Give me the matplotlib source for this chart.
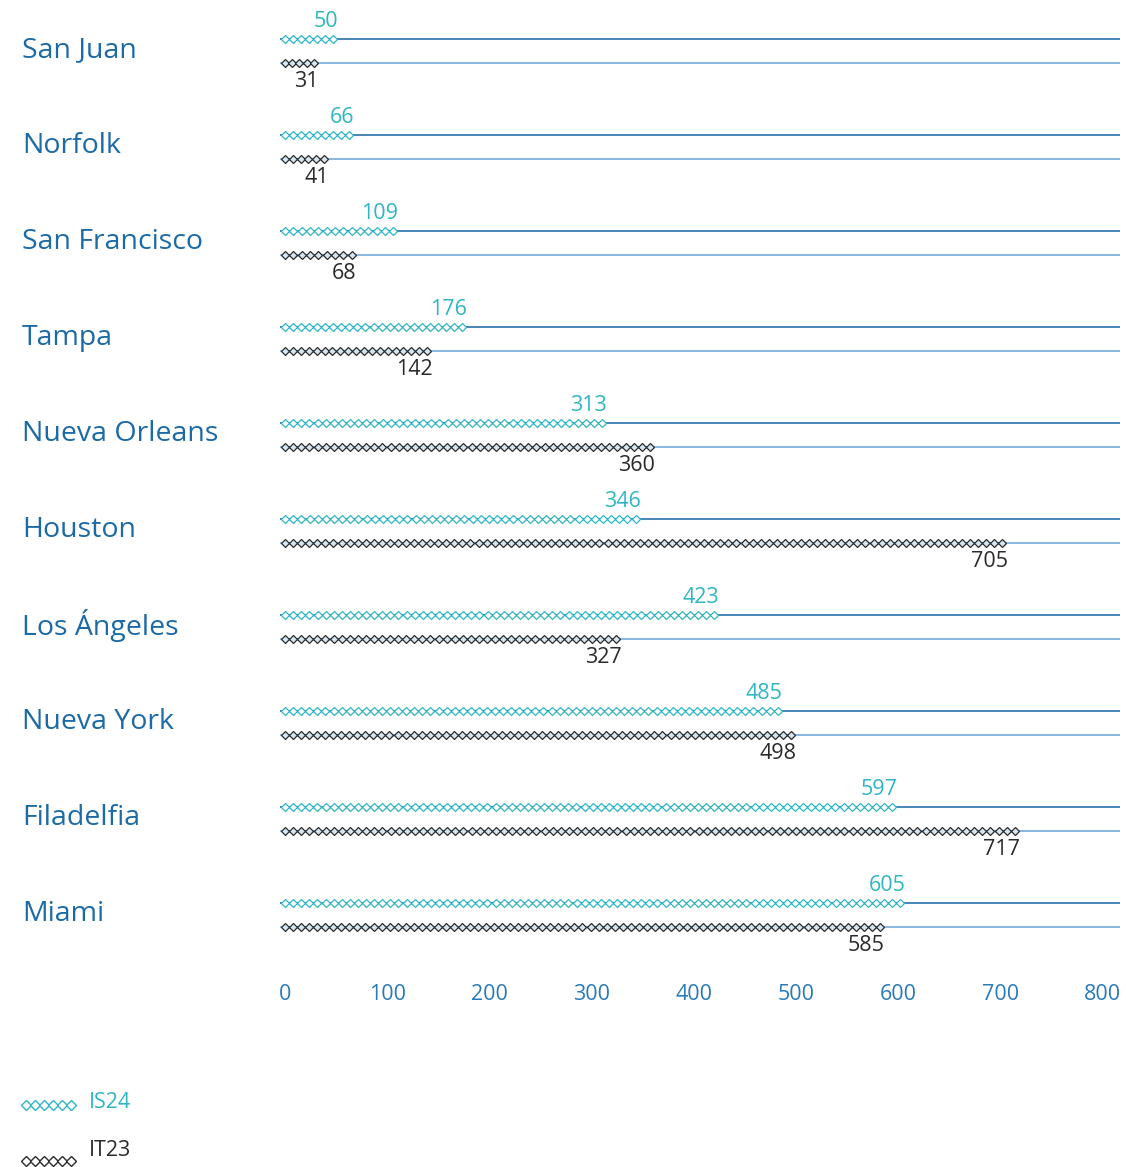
import numpy as np
import matplotlib
matplotlib.use('Agg')
from matplotlib import pyplot as plt

cities = ['San Juan', 'Norfolk', 'San Francisco', 'Tampa', 'Nueva Orleans',
          'Houston', 'Los Ángeles', 'Nueva York', 'Filadelfia', 'Miami']
is24 = [50, 66, 109, 176, 313, 346, 423, 485, 597, 605]
it23 = [31, 41, 68, 142, 360, 705, 327, 498, 717, 585]
xticks = [0, 100, 200, 300, 400, 500, 600, 700, 800]
series_names = ['IS24', 'IT23']

cyan = '#2fb6c4'
dark = '#2a2a2a'
line_top = '#2a72aa'
line_bot = '#74aad8'
label_blue = '#1c6aa6'
tick_blue = '#2a7ab8'

plt.rcParams['font.family'] = ['Open Sans', 'DejaVu Sans']

W, H = 1126, 1167
fig = plt.figure(figsize=(W / 100, H / 100), dpi=100)

# main axes: pixel rows 0..970, x from 280 to 1120
ax = fig.add_axes([280 / W, 1 - 970 / H, 840 / W, 970 / H])
ax.set_xlim(-5, 817)
ax.set_ylim(970, 0)

row_h = 96
step = 7.9

def chain(v):
    end = max(v - 3, 1)
    n = max(int(round(end / step)), 1)
    return np.linspace(0, end, n + 1)

def draw_chain(a, xs, y, col, fill):
    a.plot(xs, [y] * len(xs), ls='-', lw=1.0, color=col, marker='D', ms=3.6,
           mfc=fill, mec=col, mew=0.9, zorder=3)

for i, city in enumerate(cities):
    y_top = 39 + i * row_h
    y_bot = y_top + 24
    ax.plot([-5, 817], [y_top, y_top], color=line_top, lw=1.2, zorder=1)
    ax.plot([-5, 817], [y_bot, y_bot], color=line_bot, lw=1.2, zorder=1)

    draw_chain(ax, chain(is24[i]), y_top, cyan, 'white')
    draw_chain(ax, chain(it23[i]), y_bot, dark, '#d6e6f3')

    ax.text(is24[i] + 2, y_top - 7, str(is24[i]), color=cyan, fontsize=15.5,
            ha='right', va='bottom')
    ax.text(it23[i] + 2, y_bot + 8, str(it23[i]), color=dark, fontsize=15.5,
            ha='right', va='top')

    fig.text(22 / W, 1 - (y_top + 11) / H, city, color=label_blue, fontsize=20.5,
             ha='left', va='center')

ax.set_xticks(xticks)
ax.set_xticklabels([str(t) for t in xticks], color=tick_blue, fontsize=15.5)
ax.tick_params(axis='x', length=0, pad=10)
ax.set_yticks([])
for s in ax.spines.values():
    s.set_visible(False)

# legend
lax = fig.add_axes([0, 0, 1, 1], facecolor='none')
lax.set_xlim(0, W)
lax.set_ylim(H, 0)
lax.axis('off')
for name, col, fill, yy, ty in [(series_names[0], cyan, 'white', 1105, 1103),
                                (series_names[1], dark, 'white', 1161, 1151)]:
    xs = np.linspace(26, 71, 6)
    lax.plot(xs, [yy] * len(xs), ls='-', lw=1.0, color=col, marker='D', ms=5,
             mfc=fill, mec=col, mew=1.0)
    lax.text(89, ty, name, color=col, fontsize=15.5, ha='left', va='center')

fig.savefig('out.png', dpi=100)
